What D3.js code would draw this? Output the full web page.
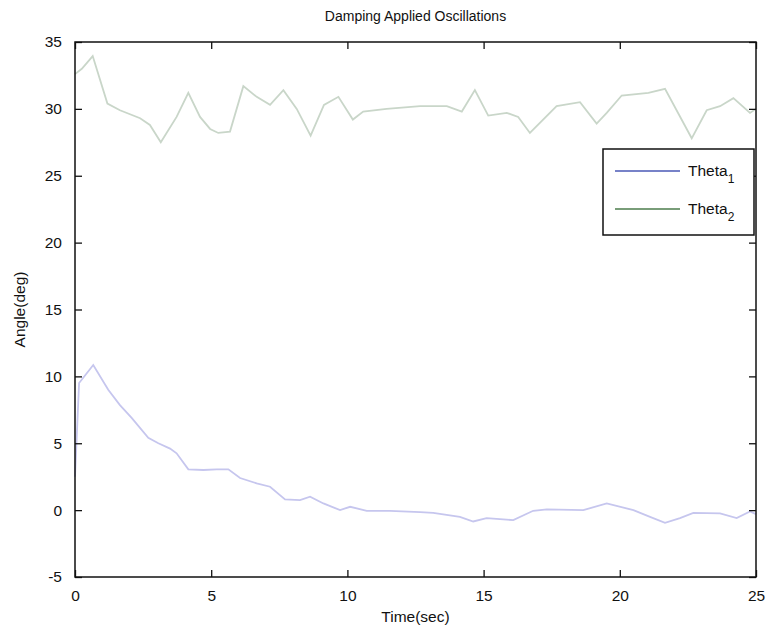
<!DOCTYPE html>
<html>
<head>
<meta charset="utf-8">
<script src="https://cdn.jsdelivr.net/npm/d3@7"></script>
<style>
  body { margin: 0; background: #fff; }
  svg text { font-family: "Liberation Sans", Arial, Helvetica, sans-serif; fill: #111; }
</style>
</head>
<body>
<div id="chart"></div>
<script>
// values
var time1 = [0, 0.15, 0.67, 1.22, 1.65, 2.08, 2.69, 3.06, 3.49, 3.73, 4.16, 4.71, 5.2, 5.63, 6.06, 6.67, 7.16, 7.71, 8.26, 8.63, 9.12, 9.73, 10.1, 10.71, 11.56, 12.67, 13.15, 14.13, 14.62, 15.11, 16.09, 16.82, 17.32, 18.66, 19.52, 20.5, 21.11, 21.66, 22.21, 22.7, 23.68, 24.29, 24.78, 25]
var theta1 = [2.5, 9.5, 10.85, 9.0, 7.85, 6.9, 5.4, 5.0, 4.6, 4.25, 3.05, 3.0, 3.05, 3.05, 2.4, 2.0, 1.75, 0.8, 0.75, 1.0, 0.5, 0.0, 0.25, -0.05, -0.05, -0.15, -0.2, -0.5, -0.85, -0.6, -0.75, -0.05, 0.06, 0.0, 0.5, 0.0, -0.5, -0.95, -0.6, -0.2, -0.25, -0.6, -0.1, -0.3]

var time2 = [0, 0.25, 0.65, 1.19, 1.65, 2.39, 2.75, 3.15, 3.73, 4.16, 4.59, 4.96, 5.26, 5.69, 6.18, 6.67, 7.16, 7.65, 8.14, 8.65, 9.14, 9.67, 10.2, 10.58, 11.44, 12.67, 13.65, 14.2, 14.68, 15.17, 15.85, 16.27, 16.7, 17.68, 18.54, 19.15, 19.52, 20.07, 21.05, 21.66, 22.64, 23.19, 23.68, 24.17, 24.78, 25]
var theta2 = [32.6, 33.0, 33.95, 30.4, 29.9, 29.3, 28.8, 27.5, 29.4, 31.2, 29.4, 28.5, 28.2, 28.3, 31.7, 30.9, 30.3, 31.4, 30.0, 28.0, 30.3, 30.9, 29.2, 29.8, 30.0, 30.2, 30.2, 29.8, 31.4, 29.5, 29.7, 29.4, 28.2, 30.2, 30.5, 28.9, 29.7, 31.0, 31.2, 31.5, 27.8, 29.9, 30.2, 30.8, 29.7, 30.0]

var xTicks = [0, 5, 10, 15, 20, 25]
var yTicks = [-5, 0, 5, 10, 15, 20, 25, 30, 35]
var seriesNames = ["1", "2"]

var W = 770, H = 636
var margin = {top: 42, right: 14, bottom: 59, left: 75}
var width = W - margin.left - margin.right
var height = H - margin.top - margin.bottom

var svg = d3.select("#chart").append("svg")
    .attr("width", W)
    .attr("height", H)

var g = svg.append("g")
    .attr("transform", "translate(" + margin.left + "," + margin.top + ")")

var x = d3.scaleLinear().domain([0, 25]).range([0, width])
var y = d3.scaleLinear().domain([-5, 35]).range([height, 0])

// plain hyphen for negatives, like the original
var fmt = d => String(d)

// data lines (faint, like the scanned figure)
var line = d3.line()
    .x(d => x(d[0]))
    .y(d => y(d[1]))

var d1 = time1.map((t, i) => [t, theta1[i]])
var d2 = time2.map((t, i) => [t, theta2[i]])

g.append("path")
    .datum(d1)
    .attr("d", line)
    .attr("fill", "none")
    .attr("stroke", "#c6c6ee")
    .attr("stroke-width", 1.8)

g.append("path")
    .datum(d2)
    .attr("d", line)
    .attr("fill", "none")
    .attr("stroke", "#c9d6c9")
    .attr("stroke-width", 1.8)

// axes: ticks inside on all four sides
var fontSize = 15.5
g.append("g")
    .attr("transform", "translate(0," + height + ")")
    .call(d3.axisBottom(x).tickValues(xTicks).tickFormat(fmt).tickSizeInner(-7).tickSizeOuter(0).tickPadding(13))
    .call(a => a.select(".domain").remove())
    .call(a => a.selectAll("text").attr("font-size", fontSize))

g.append("g")
    .call(d3.axisTop(x).tickValues(xTicks).tickSizeInner(-7).tickSizeOuter(0).tickFormat(""))
    .call(a => a.select(".domain").remove())

g.append("g")
    .call(d3.axisLeft(y).tickValues(yTicks).tickFormat(fmt).tickSizeInner(-7).tickSizeOuter(0).tickPadding(13))
    .call(a => a.select(".domain").remove())
    .call(a => a.selectAll("text").attr("font-size", fontSize))

g.append("g")
    .attr("transform", "translate(" + width + ",0)")
    .call(d3.axisRight(y).tickValues(yTicks).tickSizeInner(-7).tickSizeOuter(0).tickFormat(""))
    .call(a => a.select(".domain").remove())

g.selectAll(".tick line").attr("stroke", "#111").attr("stroke-width", 1.3)

// box
g.append("rect")
    .attr("width", width)
    .attr("height", height)
    .attr("fill", "none")
    .attr("stroke", "#111")
    .attr("stroke-width", 1.5)

// title and axis labels
svg.append("text")
    .attr("x", margin.left + width / 2)
    .attr("y", 21)
    .attr("text-anchor", "middle")
    .attr("font-size", 14)
    .text("Damping Applied Oscillations")

svg.append("text")
    .attr("x", margin.left + width / 2)
    .attr("y", 622)
    .attr("text-anchor", "middle")
    .attr("font-size", 15.5)
    .text("Time(sec)")

svg.append("text")
    .attr("transform", "translate(25," + (margin.top + height / 2) + ") rotate(-90)")
    .attr("text-anchor", "middle")
    .attr("font-size", 15.5)
    .text("Angle(deg)")

// legend
var legendColors = ["#4a58b6", "#4d7d4d"]
var lg = svg.append("g").attr("transform", "translate(603,149)")
lg.append("rect")
    .attr("width", 151)
    .attr("height", 86)
    .attr("fill", "#fff")
    .attr("stroke", "#111")
    .attr("stroke-width", 1.5)

seriesNames.forEach(function(s, i){
    var yy = 22 + i * 38
    lg.append("line")
        .attr("x1", 12).attr("x2", 77)
        .attr("y1", yy).attr("y2", yy)
        .attr("stroke", legendColors[i])
        .attr("stroke-width", 1.5)
    var t = lg.append("text")
        .attr("x", 85)
        .attr("y", yy + 5)
        .attr("font-size", 15.5)
    t.append("tspan").text("Theta")
    t.append("tspan").attr("dy", 7).attr("font-size", 12).text(s)
})
</script>
</body>
</html>
